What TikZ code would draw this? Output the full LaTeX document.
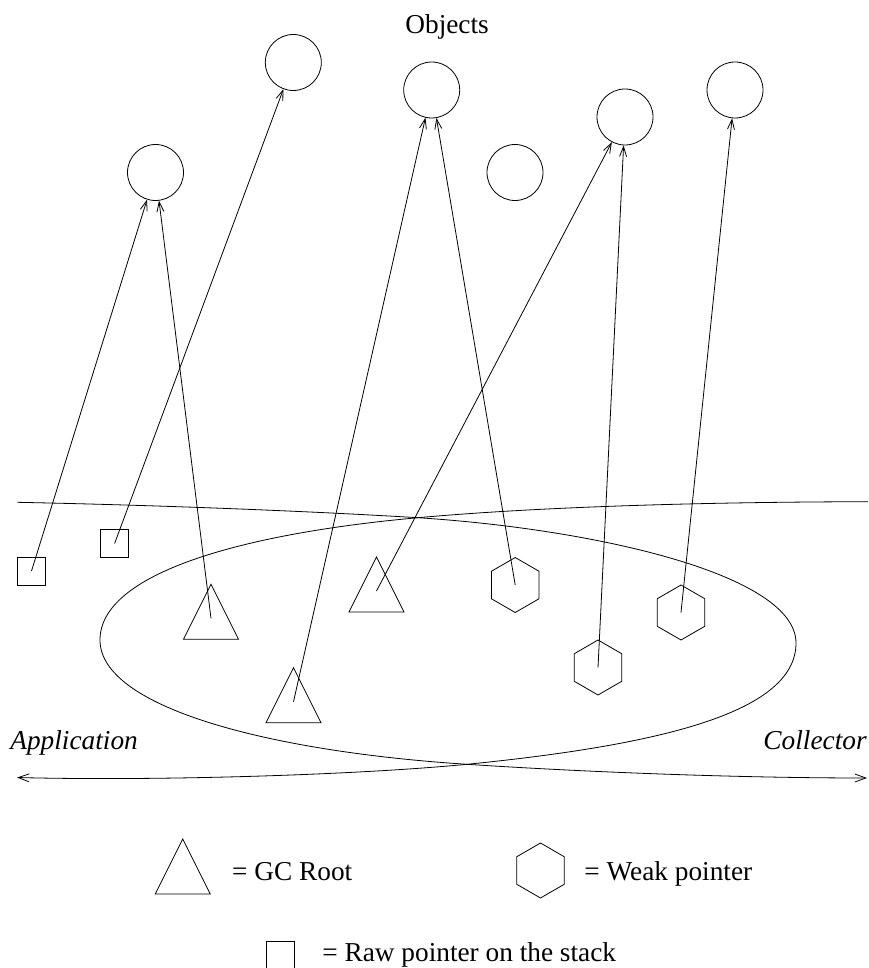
\documentclass[tikz,border=0pt]{standalone}
\usepackage{fontspec}
\setmainfont{Liberation Serif}
\usetikzlibrary{arrows.meta}
\begin{document}
\begin{tikzpicture}[x=1pt,y=-1pt, line width=0.8pt,
  obj/.style={draw, circle, minimum size=56pt, inner sep=0pt},
  ptr/.style={-{Straight Barb[length=10pt,width=7pt]}},
  bnd/.style={-{Straight Barb[length=11pt,width=8pt]}},
  lbl/.style={font=\fontsize{27.3}{32}\selectfont, inner sep=0pt},
  ilbl/.style={font=\fontsize{27.3}{32}\selectfont\itshape, inner sep=0pt},
  tri/.pic={\draw (0,-34) -- (27.5,21) -- (-27.5,21) -- cycle;},
  hex/.pic={\draw (0,-27.5) -- (23.8,-13.75) -- (23.8,13.75) -- (0,27.5) -- (-23.8,13.75) -- (-23.8,-13.75) -- cycle;},
  sqr/.pic={\draw (-14,-14) rectangle (14,14);}
]
\useasboundingbox (0,0) rectangle (868,968);

% objects
\node[lbl, anchor=base west] (objlbl) at (405,34) {Objects};
\node[obj] (c1) at (155.5,172.5) {};
\node[obj] (c2) at (293.3,62.5) {};
\node[obj] (c3) at (431.7,90) {};
\node[obj] (c4) at (515,172.5) {};
\node[obj] (c5) at (625,117) {};
\node[obj] (c6) at (735,90) {};

% boundary curves
\draw[bnd] (17.3,502.3) .. controls (150,505) and (300,510.6) .. (418,517.7)
  .. controls (598,529.4) and (796,575) .. (796,643)
  .. controls (796,711) and (667,744.3) .. (467,764.3)
  .. controls (350,775.5) and (150,781) .. (17,777.5);
\draw[bnd] (868,501.7) .. controls (718,502) and (548,506) .. (418,517.7)
  .. controls (243,533.5) and (100,573) .. (100,640)
  .. controls (100,707) and (267,751.3) .. (467,764.3)
  .. controls (600,773) and (750,778) .. (867,778);

% raw pointers
\coordinate (sq1) at (31.5,571);
\coordinate (sq2) at (114.6,543.5);
\pic at (sq1) {sqr};
\pic at (sq2) {sqr};

% GC roots
\coordinate (t1) at (211,618.3);
\coordinate (t2) at (376.5,591);
\coordinate (t3) at (293.5,701.7);
\pic at (t1) {tri};
\pic at (t2) {tri};
\pic at (t3) {tri};

% weak pointers
\coordinate (h1) at (515.2,585);
\coordinate (h2) at (681,612.5);
\coordinate (h3) at (598,667.5);
\pic at (h1) {hex};
\pic at (h2) {hex};
\pic at (h3) {hex};

% pointers
\draw[ptr] (sq1) -- (c1);
\draw[ptr] (t1) -- (c1);
\draw[ptr] (sq2) -- (c2);
\draw[ptr] (t3) -- (c3);
\draw[ptr] (h1) -- (c3);
\draw[ptr] (t2) -- (c5);
\draw[ptr] (h3) -- (c5);
\draw[ptr] (h2) -- (c6);

% side labels
\node[ilbl, anchor=base west] (app) at (10,749.5) {Application};
\node[ilbl, anchor=base east] (col) at (867,749.5) {Collector};

% legend
\coordinate (lt) at (182.7,873);
\pic at (lt) {tri};
\node[lbl, anchor=base west] (lgc) at (231.8,880.5) {= GC Root};
\coordinate (lh) at (540.5,870.5);
\pic at (lh) {hex};
\node[lbl, anchor=base west] (lwp) at (584,880.5) {= Weak pointer};
\coordinate (ls) at (280.2,955.7);
\pic at (ls) {sqr};
\node[lbl, anchor=base west] (lraw) at (322,961) {= Raw pointer on the stack};
\end{tikzpicture}
\end{document}
